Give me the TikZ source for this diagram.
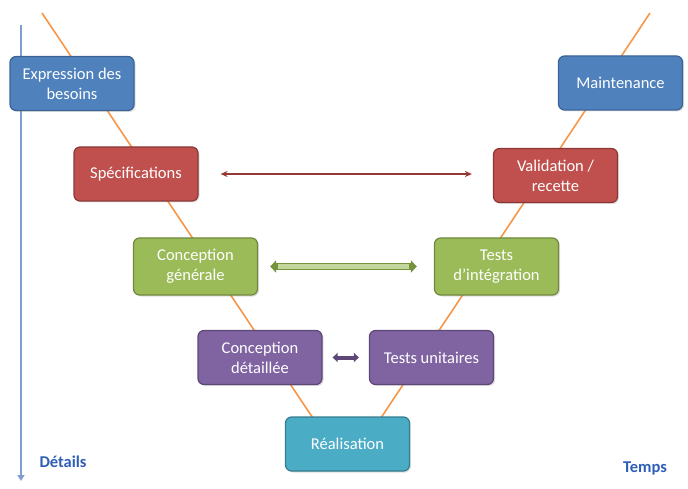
\documentclass[tikz,border=0pt]{standalone}
\usepackage{fontspec}
\setmainfont{Carlito}
\usetikzlibrary{arrows.meta,shadows}
\definecolor{bfill}{HTML}{4F81BD}\definecolor{bdraw}{HTML}{3A6496}
\definecolor{rfill}{HTML}{C0504D}\definecolor{rdraw}{HTML}{8C3836}
\definecolor{gfill}{HTML}{9BBB59}\definecolor{gdraw}{HTML}{71893F}
\definecolor{pfill}{HTML}{8064A2}\definecolor{pdraw}{HTML}{5C4776}
\definecolor{tfill}{HTML}{4BACC6}\definecolor{tdraw}{HTML}{357D91}
\definecolor{vline}{HTML}{F79646}
\definecolor{axisc}{HTML}{7F9FD3}
\definecolor{lblc}{HTML}{2E5FB8}
\definecolor{redarr}{HTML}{953735}
\definecolor{ltgreen}{HTML}{C3D69B}
\definecolor{dkgreen}{HTML}{76923C}
\begin{document}
\begin{tikzpicture}[x=1pt,y=-1pt,
  box/.style={rounded corners=6pt, minimum width=124pt, minimum height=54pt,
    align=center, text=white, font=\fontsize{16.5}{20}\selectfont,
    line width=1.2pt, inner sep=2pt,
    drop shadow={shadow xshift=1.5pt, shadow yshift=-1.5pt, opacity=0.25}},
  lbl/.style={text=lblc, font=\fontsize{16.5}{19}\selectfont\bfseries}]
\useasboundingbox (0,0) rectangle (688,489);
% V line
\coordinate (vl) at (42,13);
\coordinate (vb) at (347,469);
\coordinate (vr) at (650,13);
\draw[vline, line width=1.6pt] (vl) -- (vb) -- (vr);
% axis
\coordinate (ax1) at (21,25);
\coordinate (ax2) at (21,481);
\draw[axisc, line width=2.2pt, -{Triangle[length=6pt,width=7pt]}] (ax1) -- (ax2);
% boxes
\node[box, fill=bfill, draw=bdraw] (exp) at (72,83.5) {Expression des\\besoins};
\node[box, fill=rfill, draw=rdraw] (spec) at (136,174) {Spécifications};
\node[box, fill=gfill, draw=gdraw, minimum height=57pt] (cg) at (195.5,266.5) {Conception\\générale};
\node[box, fill=pfill, draw=pdraw] (cd) at (260,357.5) {Conception\\détaillée};
\node[box, fill=tfill, draw=tdraw] (real) at (347.5,444) {Réalisation};
\node[box, fill=pfill, draw=pdraw] (tu) at (431.5,357.5) {Tests unitaires};
\node[box, fill=gfill, draw=gdraw, minimum height=57pt] (ti) at (496.5,266.5) {Tests\\d’intégration};
\node[box, fill=rfill, draw=rdraw] (val) at (555.5,175.5) {Validation /\\recette};
\node[box, fill=bfill, draw=bdraw] (mai) at (620.5,83) {Maintenance};
% arrows
\draw[redarr, line width=1.1pt, {Stealth[length=7pt,width=6pt]}-{Stealth[length=7pt,width=6pt]}]
  ([xshift=22pt]spec.east) -- ([xshift=-21pt]spec.east -| val.west);
\draw[dkgreen, line width=7pt, {Triangle[length=6pt,width=12pt]}-{Triangle[length=6pt,width=12pt]}]
  ([xshift=12pt]cg.east) -- ([xshift=-17pt]ti.west);
\draw[ltgreen, line width=4.2pt] ([xshift=20pt]cg.east) -- ([xshift=-25pt]ti.west);
\draw[pdraw, line width=4pt, {Triangle[length=5pt,width=9pt]}-{Triangle[length=5pt,width=9pt]}]
  ([xshift=10pt]cd.east) -- ([xshift=-10pt]tu.west);
% labels
\node[lbl] (det) at (63,462) {Détails};
\node[lbl] (tps) at (645,468) {Temps};
\end{tikzpicture}
\end{document}
